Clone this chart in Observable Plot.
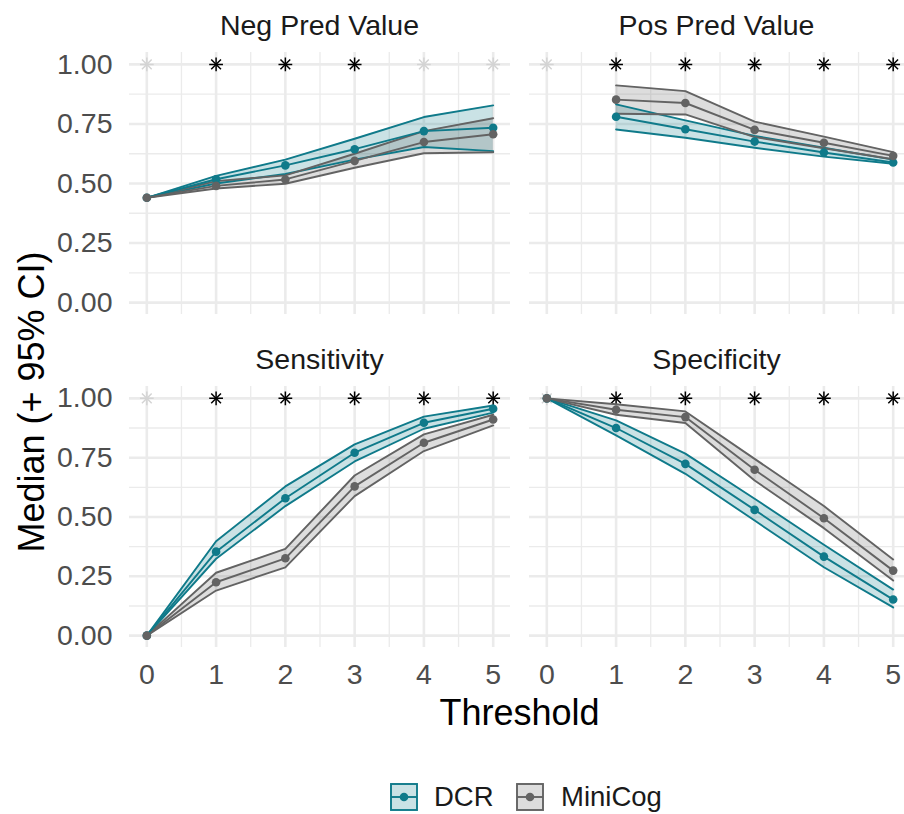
<!DOCTYPE html>
<html>
<head>
<meta charset="utf-8">
<script src="https://cdn.jsdelivr.net/npm/d3@7"></script>
<script src="https://cdn.jsdelivr.net/npm/@observablehq/plot@0.6"></script>
<style>
  html, body { margin: 0; padding: 0; background: #fff; overflow: hidden; width: 904px; height: 814px; }
  #wrap { position: relative; width: 904px; height: 814px; overflow: hidden; font-family: "Liberation Sans", Arial, sans-serif; }
  .panel { position: absolute; }
  #overlay { position: absolute; left: 0; top: 0; pointer-events: none; }
  #legend { position: absolute; left: 0; top: 783px; width: 904px; height: 30px; }
  .key { position: absolute; top: 0; }
  .lab { position: absolute; top: -1px; font-size: 27.5px; line-height: 30px; color: #1A1A1A; }
</style>
</head>
<body>
<div id="wrap">
  <div id="legend"></div>
</div>
<script>
// ---------------- data ----------------
const thresholds = [0, 1, 2, 3, 4, 5];
const metrics = ["Neg Pred Value", "Pos Pred Value", "Sensitivity", "Specificity"];
const groups = ["DCR", "MiniCog"];

// Neg Pred Value
const npvDCRMed = [0.44, 0.518, 0.576, 0.644, 0.720, 0.734];
const npvDCRLo  = [0.44, 0.500, 0.540, 0.600, 0.653, 0.636];
const npvDCRHi  = [0.44, 0.532, 0.600, 0.688, 0.779, 0.828];
const npvMCMed  = [0.44, 0.490, 0.517, 0.595, 0.674, 0.707];
const npvMCLo   = [0.44, 0.479, 0.499, 0.566, 0.627, 0.631];
const npvMCHi   = [0.44, 0.510, 0.534, 0.625, 0.720, 0.774];
// Pos Pred Value (undefined at threshold 0)
const ppvDCRMed = [NaN, 0.780, 0.728, 0.676, 0.630, 0.588];
const ppvDCRLo  = [NaN, 0.727, 0.692, 0.650, 0.613, 0.583];
const ppvDCRHi  = [NaN, 0.832, 0.765, 0.700, 0.650, 0.600];
const ppvMCMed  = [NaN, 0.852, 0.838, 0.725, 0.671, 0.616];
const ppvMCLo   = [NaN, 0.793, 0.790, 0.695, 0.648, 0.602];
const ppvMCHi   = [NaN, 0.912, 0.888, 0.760, 0.697, 0.632];
// Sensitivity
const senDCRMed = [0, 0.354, 0.579, 0.771, 0.897, 0.956];
const senDCRLo  = [0, 0.324, 0.546, 0.734, 0.872, 0.940];
const senDCRHi  = [0, 0.398, 0.629, 0.806, 0.923, 0.970];
const senMCMed  = [0, 0.225, 0.326, 0.629, 0.813, 0.911];
const senMCLo   = [0, 0.190, 0.288, 0.588, 0.778, 0.886];
const senMCHi   = [0, 0.265, 0.366, 0.675, 0.848, 0.931];
// Specificity
const spcDCRMed = [1, 0.875, 0.724, 0.530, 0.333, 0.152];
const spcDCRLo  = [1, 0.844, 0.682, 0.485, 0.288, 0.119];
const spcDCRHi  = [1, 0.907, 0.767, 0.577, 0.383, 0.194];
const spcMCMed  = [1, 0.952, 0.921, 0.699, 0.495, 0.274];
const spcMCLo   = [1, 0.931, 0.896, 0.654, 0.453, 0.232];
const spcMCHi   = [1, 0.975, 0.945, 0.745, 0.546, 0.321];

// significance markers (1 = significant, shown black)
const npvSig = [0, 1, 1, 1, 0, 0];
const ppvSig = [0, 1, 1, 1, 1, 1];
const senSig = [0, 1, 1, 1, 1, 1];
const spcSig = [0, 1, 1, 1, 1, 1];

const yTicks = [0, 0.25, 0.5, 0.75, 1];
const yMinor = [0.125, 0.375, 0.625, 0.875];
const xMinor = [0.5, 1.5, 2.5, 3.5, 4.5];

// ---------------- tables ----------------
const series = {
  "Neg Pred Value": {DCR: [npvDCRMed, npvDCRLo, npvDCRHi], MiniCog: [npvMCMed, npvMCLo, npvMCHi], sig: npvSig},
  "Pos Pred Value": {DCR: [ppvDCRMed, ppvDCRLo, ppvDCRHi], MiniCog: [ppvMCMed, ppvMCLo, ppvMCHi], sig: ppvSig},
  "Sensitivity":    {DCR: [senDCRMed, senDCRLo, senDCRHi], MiniCog: [senMCMed, senMCLo, senMCHi], sig: senSig},
  "Specificity":    {DCR: [spcDCRMed, spcDCRLo, spcDCRHi], MiniCog: [spcMCMed, spcMCLo, spcMCHi], sig: spcSig}
};
function tableFor(m, g) {
  const [med, lo, hi] = series[m][g];
  return thresholds.map((t, j) => ({x: t, med: med[j], lo: lo[j], hi: hi[j]}));
}
function starsFor(m) {
  return thresholds.map((t, j) => ({x: t, y: 1, sig: series[m].sig[j]}));
}

const TEAL = "#0F7A8A";
const GREY = "#636363";
const GRID = "#EBEBEB";
const FONT = "Liberation Sans, Arial, sans-serif";
const TICK_FS = 28.5, TITLE_FS = 36;
const LW = 1.9, PR = 4.3;

// layout (pixels) of the four panels
const PW = 381, PH = [262, 261];
const PX = [129, 529], PY = [52, 386];
const wrap = document.getElementById("wrap");

metrics.forEach((m, i) => {
  const col = i % 2, row = Math.floor(i / 2);
  const ml = col === 0 ? 129 : 10, mr = 10, mt = 10, mb = row === 1 ? 70 : 10;
  const dcr = tableFor(m, "DCR"), mc = tableFor(m, "MiniCog"), stars = starsFor(m);
  const starStroke = d => d.sig ? "#000" : "#D4D4D4";
  const p = Plot.plot({
    width: ml + PW + mr, height: mt + PH[row] + mb,
    marginLeft: ml, marginRight: mr, marginTop: mt, marginBottom: mb,
    style: {fontFamily: FONT, background: "transparent", overflow: "visible"},
    x: {domain: [-0.25, 5.25]},
    y: {domain: [-0.05, 1.05]},
    marks: [
      Plot.gridX(xMinor, {stroke: GRID, strokeOpacity: 1, strokeWidth: 1.3}),
      Plot.gridY(yMinor, {stroke: GRID, strokeOpacity: 1, strokeWidth: 1.3}),
      Plot.gridX(thresholds, {stroke: GRID, strokeOpacity: 1, strokeWidth: 2.6}),
      Plot.gridY(yTicks, {stroke: GRID, strokeOpacity: 1, strokeWidth: 2.6}),
      row === 1 ? Plot.axisX(thresholds, {tickSize: 0, tickPadding: 16, fontSize: TICK_FS, color: "#4D4D4D", label: null}) : Plot.axisX({ticks: [], label: null, tickSize: 0}),
      col === 0 ? Plot.axisY(yTicks, {tickSize: 0, tickPadding: 17, fontSize: TICK_FS, color: "#4D4D4D", label: null, tickFormat: d3.format(".2f")}) : Plot.axisY({ticks: [], label: null, tickSize: 0}),
      // significance asterisks
      Plot.dot(stars, {x: "x", y: "y", symbol: "plus", r: 4.5, strokeWidth: 1.5, stroke: starStroke}),
      Plot.dot(stars, {x: "x", y: "y", symbol: "times", r: 4.5, strokeWidth: 1.5, stroke: starStroke}),
      // ribbons
      Plot.areaY(dcr, {x: "x", y1: "lo", y2: "hi", fill: TEAL, fillOpacity: 0.22}),
      Plot.areaY(mc, {x: "x", y1: "lo", y2: "hi", fill: GREY, fillOpacity: 0.22}),
      Plot.lineY(dcr, {x: "x", y: "lo", stroke: TEAL, strokeWidth: LW}),
      Plot.lineY(dcr, {x: "x", y: "hi", stroke: TEAL, strokeWidth: LW}),
      Plot.lineY(mc, {x: "x", y: "lo", stroke: GREY, strokeWidth: LW}),
      Plot.lineY(mc, {x: "x", y: "hi", stroke: GREY, strokeWidth: LW}),
      // medians
      Plot.lineY(dcr, {x: "x", y: "med", stroke: TEAL, strokeWidth: LW}),
      Plot.lineY(mc, {x: "x", y: "med", stroke: GREY, strokeWidth: LW}),
      Plot.dot(dcr, {x: "x", y: "med", r: PR, fill: TEAL}),
      Plot.dot(mc, {x: "x", y: "med", r: PR, fill: GREY})
    ]
  });
  p.classList.add("panel");
  p.style.left = (PX[col] - ml) + "px";
  p.style.top = (PY[row] - mt) + "px";
  wrap.appendChild(p);
});

// overlay: strip titles and axis titles
const ov = d3.select(wrap).append("svg").attr("id", "overlay").attr("width", 904).attr("height", 814)
  .attr("font-family", FONT);
metrics.forEach((m, i) => {
  const col = i % 2, row = Math.floor(i / 2);
  ov.append("text")
    .attr("x", PX[col] + PW / 2 - (col === 1 ? 3 : 0)).attr("y", PY[row] - 17)
    .attr("text-anchor", "middle").attr("font-size", TICK_FS).attr("fill", "#1A1A1A")
    .text(m);
});
ov.append("text")
  .attr("x", (PX[0] + PX[1] + PW) / 2).attr("y", 725)
  .attr("text-anchor", "middle").attr("font-size", TITLE_FS).attr("fill", "#000")
  .text("Threshold");
ov.append("text")
  .attr("transform", "translate(44,402) rotate(-90)")
  .attr("text-anchor", "middle").attr("font-size", TITLE_FS).attr("fill", "#000")
  .text("Median (+ 95% CI)");

// legend
const legend = document.getElementById("legend");
wrap.appendChild(legend);
const keys = [
  {name: groups[0], color: TEAL, keyX: 390, labX: 434},
  {name: groups[1], color: GREY, keyX: 516, labX: 561}
];
keys.forEach(k => {
  const s = d3.create("svg").attr("class", "key").attr("width", 28).attr("height", 28)
    .style("left", k.keyX + "px");
  s.append("rect").attr("x", 1).attr("y", 1).attr("width", 26).attr("height", 26)
    .attr("fill", k.color).attr("fill-opacity", 0.22).attr("stroke", k.color).attr("stroke-width", LW);
  s.append("line").attr("x1", 1).attr("x2", 27).attr("y1", 14).attr("y2", 14)
    .attr("stroke", k.color).attr("stroke-width", LW);
  s.append("circle").attr("cx", 14).attr("cy", 14).attr("r", PR).attr("fill", k.color);
  legend.appendChild(s.node());
  const t = document.createElement("div");
  t.className = "lab"; t.style.left = k.labX + "px"; t.textContent = k.name;
  legend.appendChild(t);
});
</script>
</body>
</html>
